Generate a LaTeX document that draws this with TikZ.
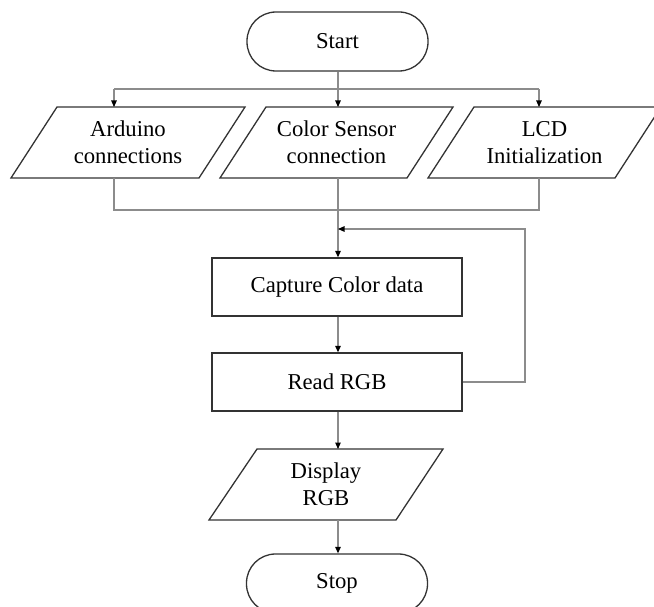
\documentclass[tikz,border=0pt]{standalone}
\usepackage{fontspec}
\setmainfont{Liberation Serif}
\usetikzlibrary{arrows.meta}
\definecolor{edge}{HTML}{333333}
\definecolor{wire}{HTML}{8C8C8C}
\tikzset{
  lbl/.style={font=\fontsize{22.7}{27}\selectfont, align=center, inner sep=0pt, text=black},
  outline/.style={draw=edge, line width=1.3pt},
  term/.style={outline, rounded corners=29pt, minimum width=181pt, minimum height=59pt, lbl},
  procbox/.style={outline, minimum width=250pt, minimum height=58pt, lbl},
  wireline/.style={draw=wire, line width=1.1pt},
  flow/.style={wireline, -{Triangle[length=6.5pt,width=5.5pt,black]}},
}
\begin{document}
\begin{tikzpicture}[x=1pt,y=-1pt]
\useasboundingbox (0,0) rectangle (654,607);

% terminals and process boxes
\node[term] (start) at (337.5,41.5) {Start};
\node[procbox] (capture) at (337,287) {Capture Color data};
\node[procbox] (read) at (337,382) {Read RGB};
\node[term] (stop) at (337,583.5) {Stop};

% input/output parallelograms
\draw[outline] (57,107) -- (245,107) -- (199,178) -- (11,178) -- cycle;
\node[lbl] (ard) at (128,142.5) {Arduino\\connections};
\draw[outline] (266,107) -- (453,107) -- (407,178) -- (220,178) -- cycle;
\node[lbl] (sens) at (336.5,142.5) {Color Sensor\\connection};
\draw[outline] (474,107) -- (661,107) -- (615,178) -- (428,178) -- cycle;
\node[lbl] (lcd) at (544.5,142.5) {LCD\\Initialization};
\draw[outline] (257,449) -- (443,449) -- (396,520) -- (209,520) -- cycle;
\node[lbl] (disp) at (326,484.5) {Display\\RGB};

% connection points on the parallelograms
\coordinate (ardT) at (114,107);
\coordinate (ardB) at (114,178);
\coordinate (sensT) at (338,107);
\coordinate (sensB) at (338,178);
\coordinate (lcdT) at (539,107);
\coordinate (lcdB) at (539,178);
\coordinate (dispT) at (338,449);
\coordinate (dispB) at (338,520);

% fan-out from Start
\coordinate (fanL) at (114,89);
\coordinate (fanR) at (539,89);
\draw[wireline] (fanL) -- (fanR);
\draw[flow] (start.south -| sensT) -- (sensT);
\draw[flow] (fanL) -- (ardT);
\draw[flow] (fanR) -- (lcdT);

% merge into capture
\coordinate (mergeL) at (114,210);
\coordinate (mergeR) at (539,210);
\draw[wireline] (ardB) -- (mergeL) -- (mergeR) -- (lcdB);
\draw[flow] (sensB) -- (capture.north -| sensB);

% loop back from Read RGB
\coordinate (loopBR) at (525,382);
\coordinate (loopTR) at (525,229);
\coordinate (loopIn) at (338,229);
\draw[flow] (read.east) -- (loopBR) -- (loopTR) -- (loopIn);

% main chain
\draw[flow] (capture.south -| sensB) -- (read.north -| sensB);
\draw[flow] (read.south -| sensB) -- (dispT);
\draw[flow] (dispB) -- (stop.north -| dispB);
\end{tikzpicture}
\end{document}
